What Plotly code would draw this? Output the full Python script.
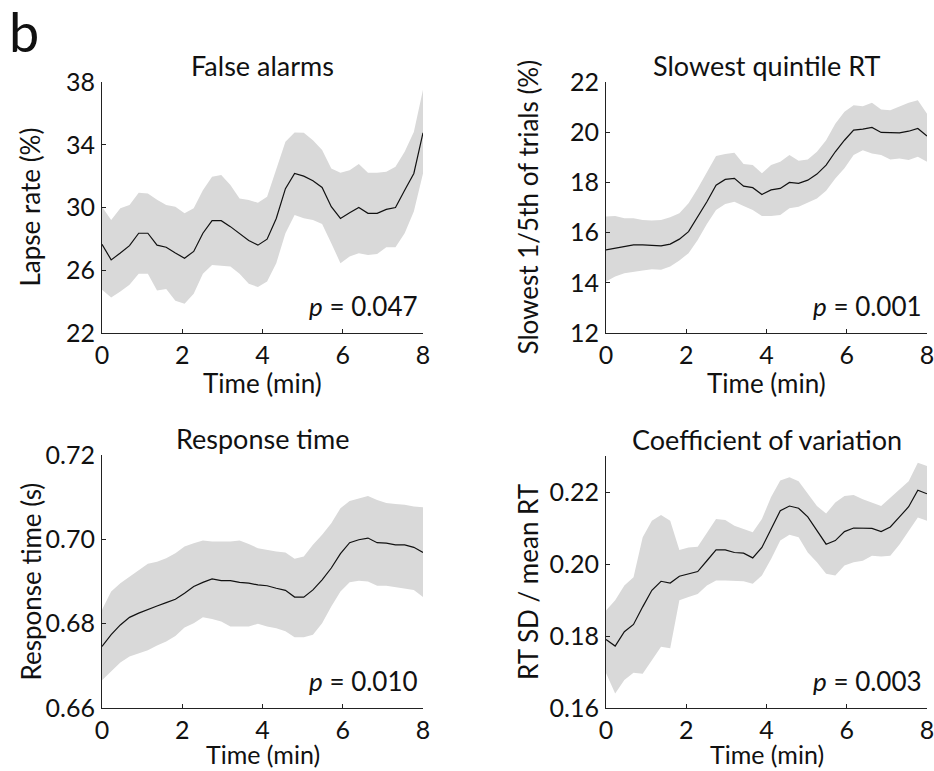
import plotly.graph_objects as go

W, H = 934, 771

# ---------------- data ----------------
time_min = [i * 8 / 35 for i in range(36)]

fa_mean = [27.66, 26.66, 27.1, 27.57, 28.36, 28.36, 27.6, 27.47, 27.1, 26.77, 27.2, 28.36,
           29.16, 29.16, 28.78, 28.36, 27.9, 27.6, 27.98, 29.3, 31.2, 32.17, 32.0, 31.7,
           31.28, 30.05, 29.3, 29.67, 30.0, 29.63, 29.63, 29.88, 30.0, 31.1, 32.17, 34.76]
fa_upper = [30.05, 29.2, 29.95, 30.16, 30.94, 30.9, 30.5, 30.16, 30.05, 29.63, 29.95, 31.1,
            31.96, 32.07, 31.43, 30.58, 30.48, 30.3, 30.69, 32.38, 34.19, 34.78, 34.76, 34.29,
            33.66, 32.49, 32.21, 32.38, 32.77, 32.21, 32.21, 32.28, 32.6, 33.55, 34.82, 37.51]
fa_lower = [24.76, 24.27, 24.65, 25.07, 25.77, 25.77, 24.71, 24.8, 24.06, 23.87, 24.5, 25.77,
            26.34, 26.3, 26.24, 25.77, 25.14, 24.93, 25.29, 26.45, 28.36, 29.52, 29.31, 29.2,
            28.95, 27.72, 26.45, 26.88, 27.09, 26.98, 27.04, 27.47, 27.47, 28.36, 29.74, 32.17]

sq_mean = [15.31, 15.38, 15.47, 15.51, 15.51, 15.5, 15.47, 15.54, 15.74, 16.04, 16.64, 17.23,
           17.89, 18.12, 18.16, 17.85, 17.79, 17.52, 17.7, 17.76, 18.0, 17.96, 18.09, 18.33,
           18.69, 19.22, 19.68, 20.08, 20.12, 20.19, 19.99, 19.99, 19.97, 20.04, 20.15, 19.85]
sq_upper = [16.64, 16.66, 16.57, 16.57, 16.5, 16.48, 16.5, 16.61, 16.77, 17.17, 17.76, 18.42,
            19.05, 19.13, 19.18, 18.73, 18.69, 18.36, 18.69, 18.82, 19.09, 18.86, 18.91, 19.22,
            19.68, 20.34, 20.81, 21.07, 21.03, 21.17, 20.9, 20.87, 21.03, 21.17, 21.27, 20.74]
sq_lower = [14.05, 14.25, 14.38, 14.45, 14.49, 14.54, 14.52, 14.65, 14.89, 15.18, 15.71, 16.34,
            16.9, 17.14, 17.23, 17.06, 16.9, 16.66, 16.66, 16.7, 16.97, 17.03, 17.19, 17.36,
            17.67, 18.16, 18.56, 19.09, 19.28, 19.15, 19.09, 18.91, 18.95, 18.89, 19.02, 18.82]

rt_mean = [0.6746, 0.6774, 0.6797, 0.6815, 0.6825, 0.6834, 0.6842, 0.6850, 0.6858, 0.6872,
           0.6888, 0.6898, 0.6906, 0.6902, 0.6902, 0.6898, 0.6896, 0.6892, 0.6890, 0.6884,
           0.6879, 0.6863, 0.6863, 0.6880, 0.6904, 0.6932, 0.6966, 0.6992, 0.6999, 0.7003,
           0.6992, 0.6991, 0.6987, 0.6987, 0.6981, 0.6969]
rt_upper = [0.6833, 0.6876, 0.6896, 0.6912, 0.6928, 0.6942, 0.6947, 0.6955, 0.6967, 0.6983,
            0.6991, 0.6997, 0.6995, 0.6995, 0.6995, 0.6997, 0.6989, 0.6979, 0.6975, 0.6971,
            0.6969, 0.6954, 0.6959, 0.6987, 0.7011, 0.7038, 0.7074, 0.7091, 0.7097, 0.7103,
            0.7093, 0.7086, 0.7084, 0.7082, 0.7078, 0.7076]
rt_lower = [0.6666, 0.6687, 0.6708, 0.6722, 0.6729, 0.6737, 0.6748, 0.6758, 0.6771, 0.6791,
            0.6801, 0.6815, 0.6811, 0.6805, 0.6793, 0.6793, 0.6793, 0.6800, 0.6793, 0.6789,
            0.6782, 0.6768, 0.6768, 0.6774, 0.6801, 0.6841, 0.6876, 0.6898, 0.6902, 0.6900,
            0.6890, 0.6890, 0.6887, 0.6884, 0.6880, 0.6863]

cv_mean = [0.1790, 0.1772, 0.1812, 0.1832, 0.1881, 0.1927, 0.1952, 0.1947, 0.1966, 0.1973,
           0.1979, 0.2009, 0.2039, 0.2039, 0.2032, 0.2030, 0.2017, 0.2046, 0.2097, 0.2148,
           0.2161, 0.2155, 0.2131, 0.2092, 0.2055, 0.2065, 0.2090, 0.2100, 0.2100, 0.2099,
           0.2090, 0.2103, 0.2131, 0.2159, 0.2205, 0.2195]
cv_upper = [0.1871, 0.1899, 0.1940, 0.1963, 0.2074, 0.2120, 0.2136, 0.2120, 0.2039, 0.2046,
            0.2048, 0.2088, 0.2125, 0.2122, 0.2106, 0.2097, 0.2088, 0.2125, 0.2186, 0.2232,
            0.2241, 0.2230, 0.2194, 0.2161, 0.2140, 0.2171, 0.2189, 0.2192, 0.2180, 0.2171,
            0.2161, 0.2184, 0.2207, 0.2230, 0.2281, 0.2272]
cv_lower = [0.1697, 0.1640, 0.1678, 0.1698, 0.1695, 0.1733, 0.1770, 0.1766, 0.1899, 0.1908,
            0.1917, 0.1940, 0.1954, 0.1954, 0.1954, 0.1952, 0.1945, 0.1968, 0.2014, 0.2065,
            0.2081, 0.2074, 0.2032, 0.2005, 0.1973, 0.1968, 0.1996, 0.2005, 0.2009, 0.2023,
            0.2021, 0.2023, 0.2054, 0.2092, 0.2129, 0.2120]

panel_titles = ["False alarms", "Slowest quintile RT", "Response time", "Coefficient of variation"]
y_titles = ["Lapse rate (%)", "Slowest 1/5th of trials (%)", "Response time (s)", "RT SD / mean RT"]
p_labels = ["0.047", "0.001", "0.010", "0.003"]
x_title = "Time (min)"
x_ticks = [0, 2, 4, 6, 8]
y_ticks = [[22, 26, 30, 34, 38], [12, 14, 16, 18, 20, 22],
           [0.66, 0.68, 0.70, 0.72], [0.16, 0.18, 0.20, 0.22]]
y_ranges = [[22, 38], [12, 22], [0.66, 0.72], [0.16, 0.23]]
series = [(fa_mean, fa_upper, fa_lower), (sq_mean, sq_upper, sq_lower),
          (rt_mean, rt_upper, rt_lower), (cv_mean, cv_upper, cv_lower)]

# ---------------- layout helpers (pixels -> paper) ----------------
def px(x):
    return x / W

def py(y):
    return 1 - y / H

# plot boxes in pixels: (left, right, top, bottom)
boxes = [(102, 423, 82, 333), (606, 927, 82, 333), (102, 423, 455, 708), (606, 927, 456, 708)]

FONT = "Lato"
FS = 25
TXT = "#111111"
BAND = "#d9d9d9"

fig = go.Figure()
layout = dict(width=W, height=H, margin=dict(l=0, r=0, t=0, b=0, autoexpand=False),
              paper_bgcolor="white", plot_bgcolor="white", showlegend=False,
              font=dict(family=FONT, size=FS, color=TXT))
annotations = []

for i, (m, up, lo) in enumerate(series):
    k = "" if i == 0 else str(i + 1)
    xa, ya = "x" + k, "y" + k
    fig.add_trace(go.Scatter(x=time_min, y=up, xaxis=xa, yaxis=ya, mode="lines",
                             line=dict(width=0, color=BAND), hoverinfo="skip"))
    fig.add_trace(go.Scatter(x=time_min, y=lo, xaxis=xa, yaxis=ya, mode="lines",
                             line=dict(width=0, color=BAND), fill="tonexty",
                             fillcolor=BAND, hoverinfo="skip"))
    fig.add_trace(go.Scatter(x=time_min, y=m, xaxis=xa, yaxis=ya, mode="lines",
                             line=dict(width=1.2, color=TXT)))
    l, r, t, b = boxes[i]
    axis_common = dict(showline=True, linecolor="#222222", linewidth=1, mirror=False,
                       ticks="inside", ticklen=4, tickcolor="#222222", showgrid=False,
                       zeroline=False, automargin=False, ticklabeloverflow="allow",
                       tickfont=dict(family=FONT, size=FS, color=TXT))
    layout["xaxis" + k] = dict(axis_common, domain=[px(l), px(r)], range=[0, 8],
                               tickvals=x_ticks, anchor=ya, ticklabelstandoff=0)
    ytf = ".2f" if i >= 2 else "d"
    layout["yaxis" + k] = dict(axis_common, domain=[py(b), py(t)], range=y_ranges[i],
                               tickvals=y_ticks[i], tickformat=ytf, anchor=xa,
                               ticklabelstandoff=1)
    cx = (l + r) / 2
    # panel title
    annotations.append(dict(text=panel_titles[i], x=px(cx), y=py(t - 17), xref="paper", yref="paper",
                            showarrow=False, xanchor="center", yanchor="middle",
                            font=dict(family=FONT, size=FS + 2, color=TXT)))
    # x title
    if i < 2:
        annotations.append(dict(text=x_title, x=px(cx), y=py(b + 50), xref="paper", yref="paper",
                                showarrow=False, xanchor="center", yanchor="middle",
                                font=dict(family=FONT, size=FS + 1, color=TXT)))
    else:
        annotations.append(dict(text=x_title, x=px(cx), y=0, xref="paper", yref="paper",
                                showarrow=False, xanchor="center", yanchor="bottom",
                                font=dict(family=FONT, size=FS, color=TXT)))
    # y title
    yx = 30 if l < 300 else 528
    annotations.append(dict(text=y_titles[i], x=px(yx), y=py((t + b) / 2), xref="paper", yref="paper",
                            showarrow=False, xanchor="center", yanchor="middle", textangle=-90,
                            font=dict(family=FONT, size=FS + 1, color=TXT)))
    # p-value
    annotations.append(dict(text="<i>p</i> = " + p_labels[i], x=px(r - 3), y=py(b - 27),
                            xref="paper", yref="paper", showarrow=False, xanchor="right",
                            yanchor="middle", font=dict(family=FONT, size=FS + 1, color=TXT)))

annotations.append(dict(text="b", x=px(7), y=py(32), xref="paper", yref="paper", showarrow=False,
                        xanchor="left", yanchor="middle",
                        font=dict(family=FONT, size=54, color=TXT)))
layout["annotations"] = annotations
fig.update_layout(**layout)
fig.write_html("out.html", config={"displayModeBar": False},
               post_script="document.body.style.margin='0';")
